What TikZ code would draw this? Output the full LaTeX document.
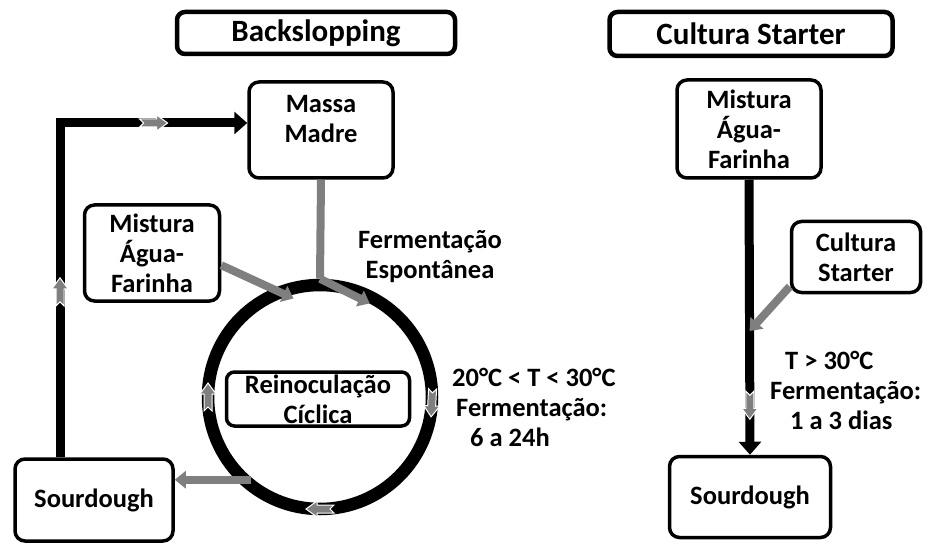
\documentclass[tikz,border=0pt]{standalone}
\usepackage{fontspec}
\setmainfont{Carlito}
\usetikzlibrary{arrows.meta,calc}
\definecolor{arrgray}{HTML}{7F7F7F}
\begin{document}
\begin{tikzpicture}[x=1pt,y=-1pt,
  txt/.style={font=\fontsize{26.5}{30}\selectfont\bfseries},
  box/.style={txt, draw, line width=3.5pt, rounded corners=10pt, fill=white, align=center, inner sep=0pt},
  titlebox/.style={box, font=\fontsize{31}{34}\selectfont\bfseries, line width=4.5pt, rounded corners=8pt},
  lbl/.style={txt, inner sep=0pt},
  blk/.style={line width=9pt, black},
  blkarrow/.style={blk, -{Triangle[width=22pt,length=13pt]}},
  grayline/.style={line width=8pt, arrgray},
  grayarrow/.style={grayline, -{Triangle[width=17pt,length=11pt]}},
  chev/.pic={\filldraw[fill=arrgray, draw=white, line width=1pt]
     (-14pt,-4pt) -- (3pt,-4pt) -- (3pt,-8pt) -- (14pt,0pt) -- (3pt,8pt) -- (3pt,4pt) -- (-14pt,4pt) -- (-10pt,0pt) -- cycle;}
]
\useasboundingbox (0,0) rectangle (933,545);

% titles
\node[titlebox, minimum width=278pt, minimum height=42pt] (t1) at (316,33) {Backslopping};
\node[titlebox, minimum width=283pt, minimum height=44pt] (t2) at (751,34) {Cultura Starter};

% left diagram
\node[draw, circle, line width=12.5pt, minimum size=224pt, inner sep=0pt] (ring) at (320,397) {};
\node[box, minimum width=144pt, minimum height=96pt] (mm) at (321,130) {};
\node[lbl, align=center] (mmtext) at (321,119) {Massa\\Madre};
\node[box, minimum width=135pt, minimum height=96pt] (mix) at (152,253) {Mistura\\Água-\\Farinha};
\node[box, rounded corners=8pt, minimum width=183pt, minimum height=54pt] (reino) at (318,399) {Reinoculação\\Cíclica};
\node[box, minimum width=158pt, minimum height=82pt] (sd) at (94,500) {Sourdough};

\coordinate (corner) at (60,123);
\coordinate (mmhit) at ($(ring.center)+(62:106pt)$);
\coordinate (mixhit) at ($(ring.center)+(105:102pt)$);
\coordinate (sdout) at ($(ring.center)+(230:108pt)$);

\draw[blkarrow] (sd.north -| corner) -- (corner) -- (mm.west |- corner);
\pic[rotate=90] at ($(sd.north -| corner)!0.495!(corner)$) {chev};
\pic at ($(corner)!0.5!(mm.west |- corner)$) {chev};
\draw[grayline] (mm.south) -- (ring.north);
\draw[grayarrow] (ring.north) -- (mmhit);
\draw[grayarrow] (mix.-10) -- (mixhit);
\draw[grayarrow] (sdout) -- (sd.east |- sdout);

\pic[rotate=-93] at ($(ring.center)+(-3:112pt)$) {chev};
\pic[rotate=180] at ($(ring.center)+(-90:112pt)$) {chev};
\pic[rotate=90] at ($(ring.center)+(180:112pt)$) {chev};

\node[lbl, align=center] (fe) at (430,257) {Fermentação\\Espontânea};
\node[lbl, align=left, anchor=west] (tl) at (452,407) {20°C < T < 30°C\\\hspace*{4pt}Fermentação:\\\hspace*{18pt}6 a 24h};

% right diagram
\node[box, minimum width=144pt, minimum height=98pt] (mix2) at (749,129) {Mistura\\Água-\\Farinha};
\node[box, minimum width=129pt, minimum height=71pt] (cs) at (856,257) {Cultura\\Starter};
\node[box, minimum width=161pt, minimum height=81pt] (sd2) at (750,497) {Sourdough};

\draw[blkarrow] (mix2.south) -- (sd2.north);
\pic[rotate=-90] at ($(mix2.south)!0.82!(sd2.north)$) {chev};
\draw[grayarrow] (cs.204) -- ($(mix2.south)!0.55!(sd2.north)$);

\node[lbl, align=left, anchor=west] (tr) at (770,390) {\hspace*{15pt}T > 30°C\\Fermentação:\\\hspace*{20pt}1 a 3 dias};
\end{tikzpicture}
\end{document}
